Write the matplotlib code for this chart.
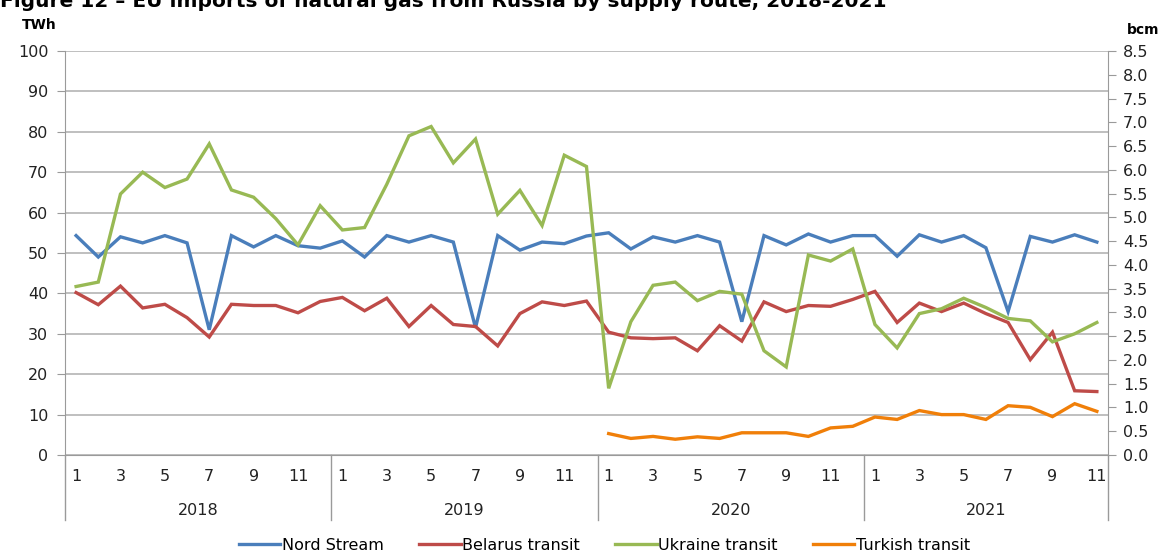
import matplotlib
matplotlib.use("Agg")
import matplotlib.pyplot as plt
import numpy as np

plt.rcParams['font.family'] = 'DejaVu Sans'

years = ["2018", "2019", "2020", "2021"]
months_per_year = [12, 12, 12, 11]

nord_stream = [54.3, 49.0, 54.0, 52.5, 54.3, 52.5, 31.0, 54.3, 51.5, 54.3, 51.8, 51.2,
               53.0, 49.0, 54.3, 52.7, 54.3, 52.7, 31.5, 54.3, 50.7, 52.7, 52.3, 54.2,
               55.0, 51.0, 54.0, 52.7, 54.3, 52.7, 33.0, 54.3, 52.0, 54.7, 52.7, 54.3,
               54.3, 49.2, 54.5, 52.7, 54.3, 51.3, 35.5, 54.1, 52.7, 54.5, 52.7]
belarus = [40.2, 37.2, 41.8, 36.4, 37.3, 34.0, 29.2, 37.3, 37.0, 37.0, 35.2, 38.0,
           39.0, 35.7, 38.8, 31.8, 37.0, 32.3, 31.8, 27.0, 35.0, 37.9, 37.0, 38.1,
           30.4, 29.0, 28.8, 29.0, 25.8, 32.0, 28.2, 37.9, 35.5, 37.0, 36.8, 38.5,
           40.5, 32.8, 37.6, 35.5, 37.6, 35.0, 32.8, 23.6, 30.4, 15.9, 15.7]
ukraine = [41.7, 42.8, 64.6, 70.0, 66.2, 68.3, 77.0, 65.6, 63.8, 58.5, 52.0, 61.7,
           55.7, 56.3, 67.0, 79.0, 81.3, 72.3, 78.2, 59.6, 65.5, 56.8, 74.2, 71.4,
           16.5, 33.0, 42.0, 42.8, 38.2, 40.5, 39.8, 25.8, 21.8, 49.5, 48.0, 51.0,
           32.3, 26.5, 35.0, 36.2, 38.8, 36.5, 33.8, 33.2, 28.0, 30.0, 32.8]
turkish = [np.nan] * 24 + [5.3, 4.1, 4.6, 3.9, 4.5, 4.1, 5.5, 5.5, 5.5, 4.6, 6.7, 7.1,
                           9.4, 8.8, 11.0, 10.0, 10.0, 8.8, 12.2, 11.8, 9.5, 12.7, 10.8]

series = [("Nord Stream", nord_stream, "#4A7EBB"),
          ("Belarus transit", belarus, "#BE4B48"),
          ("Ukraine transit", ukraine, "#98B954"),
          ("Turkish transit", turkish, "#F07F09")]

fig = plt.figure(figsize=(11.67, 5.54), dpi=100)
ax = fig.add_axes([0.0557, 0.1787, 0.8937, 0.7293])

n = sum(months_per_year)
x = np.arange(n)
for name, vals, col in series:
    ax.plot(x, vals, color=col, lw=2.4, label=name, solid_joinstyle="miter")

ax.set_xlim(-0.5, n - 0.5)
ax.set_ylim(0, 100)
ax.set_yticks(np.arange(0, 101, 10))
ax.grid(axis="y", color="#BFBFBF", lw=1.4)
ax.set_axisbelow(True)
for s in ["top", "right"]:
    ax.spines[s].set_visible(False)
ax.spines["left"].set_color("#9A9A9A")
ax.spines["bottom"].set_color("#9A9A9A")
ax.tick_params(axis="y", length=6, color="#9A9A9A", labelsize=11.5, labelcolor="#222222", pad=6)

# month labels (odd months)
ticks, labels = [], []
start = 0
for y, m in zip(years, months_per_year):
    for k in range(0, m, 2):
        ticks.append(start + k)
        labels.append(str(k + 1))
    start += m
ax.set_xticks(ticks)
ax.set_xticklabels(labels)
ax.tick_params(axis="x", length=0, labelsize=11.5, labelcolor="#222222", pad=10)

# year labels and separators
start = 0
bounds = [-0.5]
for y, m in zip(years, months_per_year):
    ax.text(start + (m - 1) / 2, -0.137, y, transform=ax.get_xaxis_transform(),
            ha="center", va="center", fontsize=11.5, color="#222222")
    start += m
    bounds.append(start - 0.5)
for b in bounds:
    ax.plot([b, b], [0, -0.16], transform=ax.get_xaxis_transform(), color="#9A9A9A",
            lw=1.0, clip_on=False)

ax2 = ax.twinx()
ax2.set_ylim(0, 8.5)
ax2.set_yticks(np.arange(0, 8.51, 0.5))
ax2.set_yticklabels(["%.1f" % v for v in np.arange(0, 8.51, 0.5)])
for s in ["top", "left", "bottom"]:
    ax2.spines[s].set_visible(False)
ax2.spines["right"].set_color("#9A9A9A")
ax2.tick_params(axis="y", length=6, color="#9A9A9A", labelsize=11.5, labelcolor="#222222", pad=5)

fig.text(0.0, 0.987, "Figure 12 \u2013 EU imports of natural gas from Russia by supply route, 2018-2021",
         fontsize=14.5, fontweight="bold", ha="left", va="baseline")
fig.text(0.019, 0.955, "TWh", fontsize=10, fontweight="bold", ha="left", va="center")
fig.text(0.966, 0.945, "bcm", fontsize=10, fontweight="bold", ha="left", va="center")

fig.legend(*ax.get_legend_handles_labels(), loc="center", bbox_to_anchor=(0.518, 0.016),
           ncol=4, frameon=False, fontsize=11.5, handlelength=2.6, handletextpad=0.1,
           columnspacing=2.2)

fig.savefig("out.png", dpi=100)
